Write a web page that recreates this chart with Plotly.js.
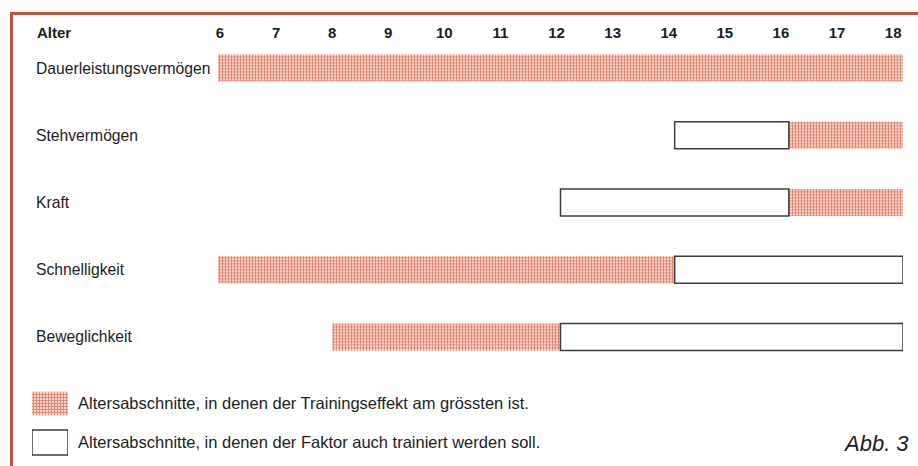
<!DOCTYPE html>
<html>
<head>
<meta charset="utf-8">
<script src="https://cdn.plot.ly/plotly-3.0.1.min.js"></script>
<style>html,body{margin:0;padding:0;background:#fff;}#chart{width:918px;height:466px;}</style>
</head>
<body>
<div id="chart"></div>
<script>
// ---- data ----
const factors = ['Dauerleistungsvermögen', 'Stehvermögen', 'Kraft', 'Schnelligkeit', 'Beweglichkeit'];
const bestFrom = [6, 16, 16, 6, 8];     // Trainingseffekt am grössten: von
const bestTo   = [18, 18, 18, 14, 12];  // bis
const alsoFrom = [null, 14, 12, 14, 12]; // auch trainieren: von
const alsoTo   = [null, 16, 16, 18, 18]; // bis
const ages = [6, 7, 8, 9, 10, 11, 12, 13, 14, 15, 16, 17, 18];
const ageLabels = ages.map(String);
const legendLabels = [
  'Altersabschnitte, in denen der Trainingseffekt am grössten ist.',
  'Altersabschnitte, in denen der Faktor auch trainiert werden soll.'
];
const swatchSpan = [0, 1];

// ---- styles ----
const W = 918, H = 466;
const px = v => v / W, py = v => 1 - v / H;
const textCol = '#1c1c1c';
const font = 'Liberation Sans, Arial, Helvetica, sans-serif';
const frameCol = '#c0533f';
const pattern = {shape: '+', fgcolor: '#df7864', bgcolor: '#f7d6cc', size: 3, solidity: 0.45};
const boxLine = {color: '#3c3c3c', width: 1.5};

const traces = [
  {
    type: 'bar', orientation: 'h', y: factors,
    base: bestFrom, x: bestFrom.map((v, i) => bestTo[i] - v),
    width: 0.4,
    marker: {color: '#eaa898', pattern: pattern, line: {width: 0}},
    xaxis: 'x', yaxis: 'y', hoverinfo: 'skip', showlegend: false
  },
  {
    type: 'bar', orientation: 'h', y: factors,
    base: alsoFrom, x: alsoFrom.map((v, i) => v === null ? null : alsoTo[i] - v),
    width: 0.4,
    marker: {color: '#ffffff', line: boxLine},
    xaxis: 'x', yaxis: 'y', hoverinfo: 'skip', showlegend: false
  },
  {
    type: 'scatter', x: [], y: [], xaxis: 'x2', yaxis: 'y',
    hoverinfo: 'skip', showlegend: false
  },
  {
    type: 'bar', orientation: 'h', y: [legendLabels[0]],
    base: [swatchSpan[0]], x: [swatchSpan[1] - swatchSpan[0]], width: 0.6,
    marker: {color: '#eaa898', pattern: pattern, line: {width: 0}},
    xaxis: 'x3', yaxis: 'y3', hoverinfo: 'skip', showlegend: false
  },
  {
    type: 'bar', orientation: 'h', y: [legendLabels[1]],
    base: [swatchSpan[0]], x: [swatchSpan[1] - swatchSpan[0]], width: 0.64,
    marker: {color: '#ffffff', line: boxLine},
    xaxis: 'x3', yaxis: 'y3', hoverinfo: 'skip', showlegend: false
  }
];

const layout = {
  width: W, height: H,
  margin: {l: 0, r: 0, t: 0, b: 0},
  paper_bgcolor: '#ffffff', plot_bgcolor: 'rgba(0,0,0,0)',
  barmode: 'overlay',
  font: {family: font, color: textCol},
  xaxis: {
    domain: [px(218), px(903)], range: [6, 18], visible: false, fixedrange: true
  },
  xaxis2: {
    overlaying: 'x', side: 'top', anchor: 'free', position: py(41),
    range: [5.9647, 18.1755], tickmode: 'array', tickvals: ages, ticktext: ageLabels,
    ticks: '', showgrid: false, zeroline: false, showline: false,
    tickfont: {family: font, size: 15, weight: 'bold', color: textCol}, fixedrange: true
  },
  yaxis: {
    domain: [py(370.6), py(34.4)], type: 'category', categoryarray: factors,
    range: [4.5, -0.5], anchor: 'free', position: px(35), side: 'right',
    ticks: '', showgrid: false, zeroline: false, showline: false,
    tickfont: {family: font, size: 15.7, color: textCol}, fixedrange: true
  },
  xaxis3: {
    domain: [px(32), px(68)], range: [0, 1], visible: false, anchor: 'y3', fixedrange: true
  },
  yaxis3: {
    domain: [py(462), py(384)], type: 'category', categoryarray: legendLabels,
    range: [1.5, -0.5], anchor: 'x3', side: 'right',
    ticks: '', showgrid: false, zeroline: false, showline: false, ticklabelstandoff: 9,
    tickfont: {family: font, size: 16.5, color: textCol}, fixedrange: true
  },
  shapes: [
    {type: 'line', xref: 'paper', yref: 'paper', x0: px(11.5), x1: px(11.5), y0: 0, y1: py(12),
     line: {color: frameCol, width: 3}},
    {type: 'line', xref: 'paper', yref: 'paper', x0: px(10), x1: 1, y0: py(13.5), y1: py(13.5),
     line: {color: frameCol, width: 3}}
  ],
  annotations: [
    {xref: 'paper', yref: 'paper', x: px(35), y: py(32), xanchor: 'left', yanchor: 'middle',
     text: 'Alter', showarrow: false, font: {family: font, size: 15, weight: 'bold', color: textCol}},
    {xref: 'paper', yref: 'paper', x: px(911), y: py(443), xanchor: 'right', yanchor: 'middle',
     text: 'Abb. 3', showarrow: false, font: {family: font, size: 22, style: 'italic', color: textCol}}
  ]
};

Plotly.newPlot('chart', traces, layout, {displayModeBar: false, staticPlot: true});
</script>
</body>
</html>
